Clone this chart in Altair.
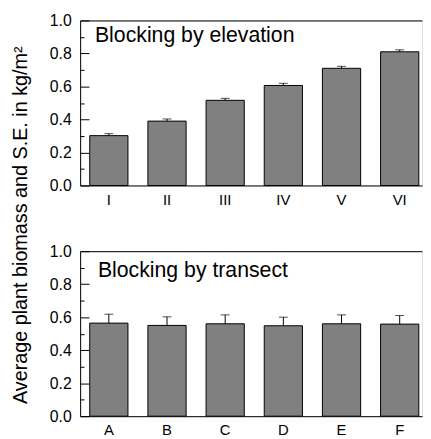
import altair as alt
import pandas as pd

# ---- data ----
elev_cats = ["I", "II", "III", "IV", "V", "VI"]
elev_means = [0.302, 0.390, 0.516, 0.606, 0.710, 0.810]
elev_se = [0.012, 0.013, 0.012, 0.013, 0.012, 0.012]

trans_cats = ["A", "B", "C", "D", "E", "F"]
trans_means = [0.564, 0.550, 0.560, 0.548, 0.560, 0.558]
trans_se = [0.054, 0.052, 0.054, 0.052, 0.054, 0.052]

major_ticks = [0.0, 0.2, 0.4, 0.6, 0.8, 1.0]
minor_ticks = [0.1, 0.3, 0.5, 0.7, 0.9]

y_title = "Average plant biomass and S.E. in kg/m\u00b2"
panel_titles = ["Blocking by elevation", "Blocking by transect"]

FONT = "Liberation Sans"
W, H = 346, 167


def panel(cats, means, ses, label, tx, ty):
    df = pd.DataFrame({
        "cat": cats,
        "mean": means,
        "top": [m + s for m, s in zip(means, ses)],
    })
    xscale = alt.Scale(paddingInner=0.343, paddingOuter=0.11, align=0.75)
    yscale = alt.Scale(domain=[0, 1], nice=False, zero=True)

    bars = alt.Chart(df).mark_bar(
        color="#808080", stroke="black", strokeWidth=1
    ).encode(
        x=alt.X("cat:N", sort=cats, scale=xscale,
                axis=alt.Axis(title=None, labelAngle=0, ticks=False,
                              labelPadding=7, labelFontSize=15,
                              labelColor="black", domainColor="black",
                              grid=False)),
        y=alt.Y("mean:Q", scale=yscale,
                axis=alt.Axis(title=None, values=major_ticks, format=".1f",
                              ticks=False, labelPadding=9, labelFontSize=16,
                              labelColor="black", domainColor="black",
                              grid=False)),
    )

    err = alt.Chart(df).mark_rule(color="black", strokeWidth=1).encode(
        x=alt.X("cat:N", sort=cats, scale=xscale,
                axis=alt.Axis(orient="top", title=None, labels=False,
                              ticks=False, domainColor="black", grid=False)),
        y=alt.Y("mean:Q", scale=yscale,
                axis=alt.Axis(orient="right", offset=-W, title=None,
                              labels=False, domain=False, values=major_ticks,
                              tickSize=9, tickColor="black", grid=False)),
        y2="top:Q",
    )

    cap = alt.Chart(df).mark_tick(color="black", size=9, thickness=1).encode(
        x=alt.X("cat:N", sort=cats, scale=xscale, axis=None),
        y=alt.Y("top:Q", scale=yscale,
                axis=alt.Axis(orient="right", offset=-W, title=None,
                              labels=False, domain=False, values=minor_ticks,
                              tickSize=4, tickColor="black", grid=False)),
    )

    txt = alt.Chart(pd.DataFrame({"t": [label]})).mark_text(
        align="left", baseline="alphabetic", fontSize=21.5, font=FONT,
        color="black"
    ).encode(text="t:N", x=alt.value(tx), y=alt.value(ty))

    return alt.layer(bars, err, cap, txt).resolve_axis(
        x="independent", y="independent"
    ).properties(width=W, height=H)


top = panel(elev_cats, elev_means, elev_se, panel_titles[0], 15, 22)
bottom = panel(trans_cats, trans_means, trans_se, panel_titles[1], 18, 26)

chart = alt.vconcat(top, bottom, spacing=34.5).properties(
    title=alt.TitleParams(y_title, orient="left", anchor="middle",
                          fontSize=20, font=FONT, fontWeight="normal",
                          color="black", offset=18),
    padding={"left": 3, "top": 1, "right": 0, "bottom": 0},
).configure_view(stroke=None).configure(font=FONT)

chart.save("out.html", embed_options={"renderer": "svg", "actions": False})
